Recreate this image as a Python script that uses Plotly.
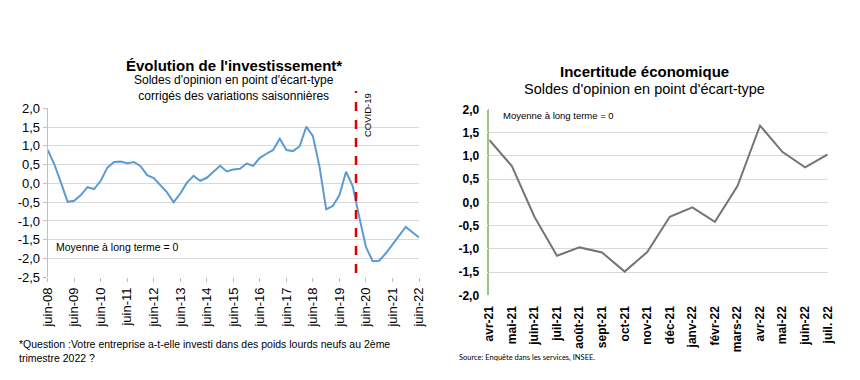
import plotly.graph_objects as go

W, H = 860, 380
OFF = 8  # page body margin in the browser

# ---------------- data ----------------
quarter_months = ["juin", "sept", "déc", "mars"]
invest_labels = []
for i in range(57):
    yr = 8 + i // 4 + (1 if i % 4 == 3 else 0)
    invest_labels.append(f"{quarter_months[i % 4]}-{yr:02d}")
invest_ticks = [f"juin-{y:02d}" for y in range(8, 23)]

invest_values = [
    0.89, 0.51, 0.02, -0.49, -0.46, -0.31, -0.10, -0.15, 0.07, 0.42,
    0.57, 0.58, 0.54, 0.57, 0.46, 0.22, 0.14, -0.05, -0.24, -0.50,
    -0.27, 0.02, 0.20, 0.07, 0.15, 0.31, 0.47, 0.32, 0.37, 0.39,
    0.53, 0.47, 0.68, 0.79, 0.89, 1.19, 0.89, 0.86, 0.99, 1.51,
    1.26, 0.44, -0.69, -0.60, -0.31, 0.31, -0.07, -0.90, -1.69, -2.07,
    -2.06, -1.86, -1.61, -1.39, -1.16, -1.31, -1.44,
]
covid_x = 46.5  # between déc-19 and mars-20

incert_labels = ["avr-21", "mai-21", "juin-21", "juil-21", "août-21", "sept-21",
                 "oct-21", "nov-21", "déc-21", "janv-22", "févr-22", "mars-22",
                 "avr-22", "mai-22", "juin-22", "juil. 22"]
incert_values = [1.34, 0.78, -0.31, -1.15, -0.97, -1.08, -1.49, -1.07,
                 -0.31, -0.11, -0.42, 0.35, 1.65, 1.08, 0.75, 1.03]

left_yticks = [-2.5, -2.0, -1.5, -1.0, -0.5, 0.0, 0.5, 1.0, 1.5, 2.0]
right_yticks = [-2.0, -1.5, -1.0, -0.5, 0.0, 0.5, 1.0, 1.5, 2.0]


def fmt(v):
    return f"{v:.1f}".replace(".", ",")


def px(x):
    return (x - OFF) / W


def py(y):
    return 1 - (y - OFF) / H


FONT = "Liberation Sans, Arial, sans-serif"

fig = go.Figure()
fig.add_trace(go.Scatter(x=invest_labels, y=invest_values, mode="lines",
                         line=dict(color="#5b9bd5", width=2),
                         xaxis="x", yaxis="y", showlegend=False))
fig.add_trace(go.Scatter(x=incert_labels, y=incert_values, mode="lines",
                         line=dict(color="#757575", width=2),
                         xaxis="x2", yaxis="y2", showlegend=False))

fig.update_layout(
    template="none",
    width=W, height=H, margin=dict(l=0, r=0, t=0, b=0, autoexpand=False),
    paper_bgcolor="white", plot_bgcolor="white",
    font=dict(family=FONT, color="#000000"),
    xaxis=dict(domain=[px(47.7), px(419)], anchor="y", type="category",
               automargin=False,
               range=[0, 56], tickmode="array", tickvals=invest_ticks,
               ticktext=invest_ticks, tickangle=-90, showgrid=False,
               ticks="outside", ticklen=4, tickcolor="#bfbfbf",
               tickfont=dict(size=13, color="#000000"), zeroline=False,
               showline=False),
    yaxis=dict(domain=[py(277.3), py(108.3)], anchor="x", range=[-2.5, 2.0],
               automargin=False,
               tickmode="array", tickvals=left_yticks,
               ticktext=[fmt(v) for v in left_yticks],
               showgrid=True, gridcolor="#d9d9d9", gridwidth=1,
               showline=True, linecolor="#bfbfbf", ticks="outside",
               ticklen=4, tickcolor="#bfbfbf", zeroline=False,
               tickfont=dict(size=13, color="#000000")),
    xaxis2=dict(domain=[px(489.3), px(827.7)], anchor="y2", type="category",
                automargin=False,
                range=[0, 15], tickangle=-90, showgrid=False,
                ticks="outside", ticklen=5, tickcolor="white",
                tickfont=dict(size=12, color="#000000", weight="bold"),
                zeroline=False, showline=False),
    xaxis3=dict(domain=[px(489.3), px(827.7)], anchor="free", overlaying="x2",
                position=py(202.3), automargin=False, type="linear",
                range=[0, len(incert_labels) - 1], tickmode="linear", tick0=0,
                dtick=1, ticks="outside", ticklen=3, tickcolor="#cfcfcf",
                showticklabels=False, showgrid=False, zeroline=False,
                showline=False),
    yaxis2=dict(domain=[py(295.3), py(109.3)], anchor="x2", range=[-2.0, 2.0],
                automargin=False,
                tickmode="array", tickvals=right_yticks,
                ticktext=[fmt(v) for v in right_yticks],
                showgrid=True, gridcolor="#d9d9d9", gridwidth=1,
                showline=True, linecolor="#9bc48a", linewidth=1.5,
                zeroline=False, ticks="outside", ticklen=6, tickcolor="white",
                tickfont=dict(size=12, color="#000000", weight="bold")),
)

fig.add_shape(type="line", xref="x", yref="paper", x0=covid_x, x1=covid_x,
              y0=py(273), y1=py(91),
              line=dict(color="#e00000", width=2.5, dash="dash"))

ann = []
ann.append(dict(x=px(367), y=py(115), text="COVID-19", textangle=-90,
                font=dict(size=9.5, color="#000000")))
ann.append(dict(x=px(234), y=py(65), text="<b>Évolution de l'investissement*</b>",
                font=dict(size=15, color="#000000")))
ann.append(dict(x=px(234), y=py(88),
                text="Soldes d'opinion en point d'écart-type<br>corrigés des variations saisonnières",
                font=dict(size=12, color="#000000")))
ann.append(dict(x=px(54), y=py(247), xanchor="left",
                text="Moyenne à long terme = 0", font=dict(size=10.5, color="#000000")))
ann.append(dict(x=px(17), y=py(351), xanchor="left", align="left",
                text="*Question :Votre entreprise a-t-elle investi dans des poids lourds neufs au 2ème<br>trimestre 2022 ?",
                font=dict(size=10.5, color="#000000")))
ann.append(dict(x=px(644), y=py(72), text="<b>Incertitude économique</b>",
                font=dict(size=15, color="#000000")))
ann.append(dict(x=px(644), y=py(89), text="Soldes d'opinion en point d'écart-type",
                font=dict(size=14.5, color="#000000")))
ann.append(dict(x=px(501), y=py(115), xanchor="left",
                text="Moyenne à long terme = 0", font=dict(size=9.5, color="#000000")))
ann.append(dict(x=px(457), y=py(357), xanchor="left",
                text="Source: Enquête dans les services, INSEE.",
                font=dict(size=7.5, color="#000000", family="Lato, sans-serif")))

for a in ann:
    a.setdefault("xref", "paper")
    a.setdefault("yref", "paper")
    a.setdefault("showarrow", False)
    a.setdefault("xanchor", "center")
    a.setdefault("yanchor", "middle")
    fig.add_annotation(**a)

fig.write_html("out.html")
